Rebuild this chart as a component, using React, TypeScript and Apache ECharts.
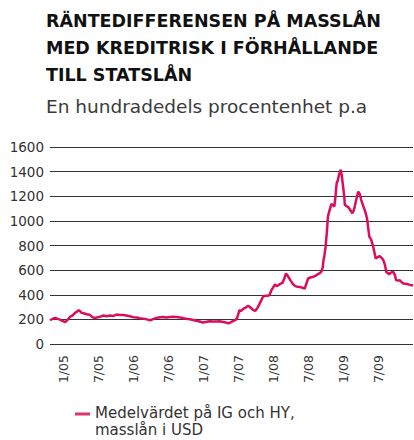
import React, { useEffect, useRef } from "react";
import * as echarts from "echarts";

// x = months since January 2005 (0 = 1/05)
const months: number[] = [
  -2.3, -1.8, -1.4, -1.0, -0.6, 0.3, 0.7, 1.1, 1.6, 2.0, 2.3, 2.6, 2.9, 3.1, 3.6, 4.0, 4.5, 4.9, 5.3, 5.7,
  6.3, 6.9, 7.4, 8.0, 8.6, 9.1, 9.7, 10.3, 10.8, 11.4, 12.0, 12.6, 13.1, 13.7, 14.3, 14.9, 15.4, 16.0,
  16.6, 17.1, 17.7, 18.3, 18.8, 19.4, 20.0, 20.6, 21.1, 21.7, 22.3, 22.9, 23.4, 24.0, 24.6, 25.1, 25.7,
  26.3, 26.8, 27.4, 27.9, 28.3, 28.7, 29.1, 29.5, 29.8, 30.0, 30.2, 30.5, 30.9, 31.3, 31.7, 32.0, 32.3,
  32.6, 32.9, 33.2, 33.4, 33.8, 34.3, 34.7, 35.1, 35.4, 35.7, 36.0, 36.3, 36.6, 36.9, 37.2, 37.6, 37.9,
  38.2, 38.4, 38.7, 39.0, 39.4, 39.8, 40.2, 40.6, 40.9, 41.2, 41.4, 41.7, 42.0, 42.4, 42.9, 43.3, 43.7,
  44.0, 44.3, 44.5, 44.6, 44.8, 45.0, 45.2, 45.4, 45.7, 46.0, 46.3, 46.5, 46.7, 46.9, 47.1, 47.3, 47.45,
  47.6, 47.8, 48.0, 48.2, 48.3, 48.6, 48.9, 49.2, 49.6, 49.8, 50.0, 50.3, 50.6, 50.9, 51.1, 51.4, 51.7,
  51.9, 52.1, 52.3, 52.5, 52.8, 53.1, 53.4, 53.6, 53.9, 54.3, 54.6, 54.9, 55.2, 55.4, 55.7, 55.9, 56.2,
  56.6, 56.9, 57.1, 57.4, 57.7, 58.0, 58.3, 58.7, 59.1, 59.5, 59.8, 60.0,
];

const spread: number[] = [
  193, 205, 212, 204, 198, 177, 195, 220, 232, 253, 262, 274, 265, 253, 248, 242, 238, 220, 212, 215,
  222, 231, 226, 231, 228, 239, 235, 236, 232, 225, 218, 215, 210, 206, 200, 193, 202, 212,
  218, 220, 216, 220, 222, 220, 216, 209, 205, 201, 195, 187, 183, 174, 180, 185, 183,
  182, 184, 179, 174, 168, 176, 187, 195, 209, 240, 274, 268, 288, 296, 310, 300, 288,
  275, 269, 285, 301, 340, 388, 392, 391, 400, 437, 460, 483, 470, 478, 488, 497, 530,
  573, 560, 538, 515, 486, 470, 464, 462, 459, 455, 448, 490, 532, 540, 546, 555, 568,
  575, 589, 620, 668, 720, 790, 900, 1035, 1090, 1138, 1125, 1116, 1200, 1306, 1330, 1374, 1395,
  1415, 1360, 1279, 1200, 1130, 1120, 1111, 1090, 1062, 1080, 1116, 1180, 1238, 1215, 1171, 1130, 1089,
  1060, 1021, 950, 872, 850, 804, 740, 695, 705, 714, 700, 682, 640, 587, 575, 565, 580,
  587, 560, 519, 515, 519, 505, 492, 490, 486, 480, 478, 475,
];

const tickMonths: number[] = [0, 6, 12, 18, 24, 30, 36, 42, 48, 54];
const tickLabels: string[] = ["1/05", "7/05", "1/06", "7/06", "1/07", "7/07", "1/08", "7/08", "1/09", "7/09"];

const titleText = "RÄNTEDIFFERENSEN PÅ MASSLÅN\nMED KREDITRISK I FÖRHÅLLANDE\nTILL STATSLÅN";
const subtitleText = "En hundradedels procentenhet p.a";
const seriesName = "Medelvärdet på IG och HY,\nmasslån i USD";

export default function App() {
  const ref = useRef<HTMLDivElement>(null);
  useEffect(() => {
    if (!ref.current) return;
    const chart = echarts.init(ref.current, undefined, { renderer: "svg" });
    const data = months.map((m, i) => [m, spread[i]]);
    chart.setOption({
      animation: false,
      backgroundColor: "#ffffff",
      title: [
        {
          text: titleText,
          left: 46,
          top: 7,
          padding: 0,
          textStyle: {
            fontFamily: "DejaVu Sans",
            fontWeight: "bold",
            fontSize: 17.5,
            lineHeight: 27,
            color: "#111111",
          },
        },
        {
          text: subtitleText,
          left: 46,
          top: 96,
          padding: 0,
          textStyle: {
            fontFamily: "DejaVu Sans",
            fontWeight: "normal",
            fontSize: 18.5,
            lineHeight: 21,
            color: "#3a3a3a",
          },
        },
      ],
      legend: {
        left: 75,
        top: 404,
        padding: 0,
        itemWidth: 15,
        itemHeight: 17,
        itemGap: 10,
        icon: "path://M0,0L15,0L15,3L0,3Z M0,16.95L0.01,16.95L0.01,17L0,17Z",
        textStyle: {
          fontFamily: "DejaVu Sans",
          fontSize: 15,
          lineHeight: 17,
          color: "#333333",
          padding: [0, 0, 0, 0],
        },
        data: [{ name: seriesName, itemStyle: { color: "#e0336a" } }],
      },
      grid: {
        left: 50,
        right: 1,
        top: 147,
        bottom: 96,
        containLabel: false,
      },
      xAxis: {
        type: "value",
        min: -2.3,
        max: 60,
        axisLine: { show: false },
        axisTick: { show: false },
        splitLine: { show: false },
        axisLabel: {
          customValues: tickMonths,
          rotate: 90,
          margin: 11,
          fontFamily: "DejaVu Sans",
          fontSize: 12.5,
          color: "#333333",
          formatter: (v: number) => {
            const i = tickMonths.indexOf(Math.round(v));
            return i >= 0 ? tickLabels[i] : "";
          },
        },
      },
      yAxis: {
        type: "value",
        min: 0,
        max: 1600,
        interval: 200,
        axisLine: { show: false },
        axisTick: { show: false },
        splitLine: { show: true, lineStyle: { color: "#333333", width: 1 } },
        axisLabel: {
          margin: 6,
          fontFamily: "DejaVu Sans",
          fontSize: 13.5,
          color: "#333333",
          formatter: (v: number) => String(v),
        },
      },
      series: [
        {
          name: seriesName,
          type: "line",
          data,
          showSymbol: false,
          symbol: "none",
          lineStyle: { color: "#dc0d5c", width: 2.5 },
          itemStyle: { color: "#dc0d5c" },
        },
      ],
    });
    return () => chart.dispose();
  }, []);
  return (
    <div
      ref={ref}
      style={{ position: "fixed", left: 0, top: 0, width: 414, height: 440 }}
    />
  );
}
